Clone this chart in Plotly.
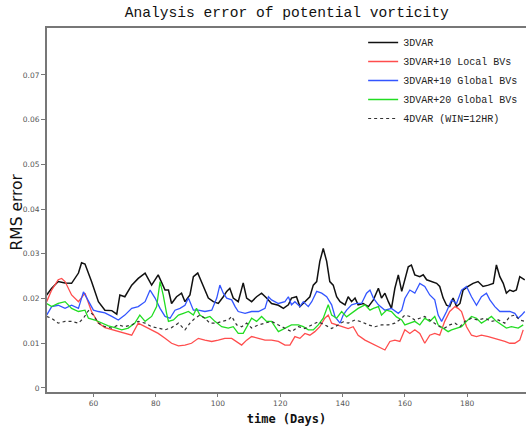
import plotly.graph_objects as go

# ---- data ----
black_days = [45.0, 46.6, 48.7, 50.9, 53.0, 55.2, 56.2, 57.3, 59.4, 61.6, 63.7, 65.9, 67.5, 68.5, 70.1, 72.3,
              74.4, 76.6, 78.7, 80.8, 83.0, 84.1, 85.1, 86.7, 88.3, 89.4, 91.0, 92.1, 93.5, 94.8, 95.8, 96.9,
              98.5, 100.1, 101.7, 102.8, 103.8, 104.9, 106.5, 108.1, 109.2, 110.8, 112.4, 114.0, 115.6, 117.2,
              119.4, 121.0, 122.6, 123.6, 125.2, 126.3, 127.9, 129.5, 130.6, 131.7, 132.7, 133.8, 134.9, 135.9,
              137.0, 138.1, 139.2, 140.8, 141.8, 142.9, 144.0, 145.0, 146.6, 148.3, 149.9, 151.5, 152.5, 153.6,
              154.7, 155.7, 156.8, 157.9, 159.0, 160.0, 161.1, 162.1, 163.2, 164.8, 165.9, 167.0, 168.6, 170.2,
              171.2, 172.3, 173.4, 174.4, 175.5, 176.6, 177.7, 178.7, 180.3, 181.9, 183.5, 185.1, 186.8, 188.4,
              189.4, 190.5, 191.6, 192.6, 193.7, 194.8, 195.8, 196.9, 198.5]
black_vals = [0.0208, 0.0223, 0.0238, 0.0235, 0.0234, 0.0257, 0.0280, 0.0277, 0.0238, 0.0193, 0.0174, 0.0173,
              0.0165, 0.0208, 0.0204, 0.0230, 0.0245, 0.0257, 0.0230, 0.0253, 0.0219, 0.0219, 0.0189, 0.0204,
              0.0212, 0.0193, 0.0208, 0.0249, 0.0257, 0.0234, 0.0219, 0.0201, 0.0193, 0.0189, 0.0204, 0.0216,
              0.0223, 0.0201, 0.0193, 0.0235, 0.0201, 0.0193, 0.0204, 0.0212, 0.0201, 0.0189, 0.0185, 0.0178,
              0.0186, 0.0201, 0.0204, 0.0182, 0.0193, 0.0204, 0.0230, 0.0238, 0.0283, 0.0312, 0.0283, 0.0238,
              0.0230, 0.0204, 0.0193, 0.0186, 0.0204, 0.0193, 0.0201, 0.0186, 0.0189, 0.0182, 0.0197, 0.0223,
              0.0201, 0.0212, 0.0193, 0.0178, 0.0223, 0.0253, 0.0216, 0.0245, 0.0271, 0.0275, 0.0253, 0.0249,
              0.0253, 0.0242, 0.0238, 0.0234, 0.0227, 0.0201, 0.0185, 0.0182, 0.0201, 0.0182, 0.0189, 0.0219,
              0.0227, 0.0234, 0.0238, 0.0227, 0.0230, 0.0234, 0.0275, 0.0249, 0.0234, 0.0212, 0.0219, 0.0216,
              0.0219, 0.0249, 0.0242]

red_days = [45.0, 46.6, 48.7, 49.8, 50.9, 53.0, 55.2, 57.3, 59.4, 61.6, 63.7, 65.9, 68.0, 70.1, 72.3, 74.4,
            76.6, 78.7, 80.8, 83.0, 85.1, 87.3, 89.4, 91.5, 93.7, 95.8, 98.0, 100.1, 102.2, 104.4, 106.0, 107.6,
            109.2, 110.8, 113.0, 115.1, 117.2, 119.4, 121.5, 123.1, 124.7, 126.3, 127.9, 129.5, 131.1, 132.7,
            134.3, 135.4, 136.5, 138.1, 139.7, 141.8, 143.4, 145.0, 147.2, 149.3, 151.5, 153.6, 155.2, 156.8,
            158.4, 160.0, 161.6, 163.2, 164.8, 166.4, 168.0, 169.6, 171.2, 172.8, 174.4, 176.1, 177.1, 178.2,
            179.8, 181.4, 183.0, 184.6, 186.8, 188.9, 190.5, 192.1, 193.7, 195.3, 196.9, 198.0]
red_vals = [0.0193, 0.0219, 0.0242, 0.0245, 0.0238, 0.0208, 0.0193, 0.0212, 0.0171, 0.0145, 0.0135, 0.0131,
            0.0126, 0.0122, 0.0118, 0.0145, 0.0137, 0.0130, 0.0122, 0.0111, 0.0100, 0.0094, 0.0096, 0.0100,
            0.0111, 0.0107, 0.0104, 0.0107, 0.0111, 0.0111, 0.0104, 0.0096, 0.0107, 0.0115, 0.0111, 0.0107,
            0.0107, 0.0104, 0.0096, 0.0096, 0.0115, 0.0111, 0.0122, 0.0118, 0.0126, 0.0137, 0.0156, 0.0163,
            0.0145, 0.0141, 0.0137, 0.0133, 0.0137, 0.0118, 0.0107, 0.0100, 0.0093, 0.0085, 0.0104, 0.0107,
            0.0104, 0.0130, 0.0122, 0.0130, 0.0122, 0.0100, 0.0118, 0.0122, 0.0118, 0.0149, 0.0171, 0.0182,
            0.0178, 0.0171, 0.0137, 0.0118, 0.0115, 0.0118, 0.0115, 0.0111, 0.0107, 0.0104, 0.0100, 0.0100,
            0.0107, 0.0130]

blue_days = [45.0, 46.6, 48.7, 50.9, 53.0, 55.2, 56.8, 58.4, 60.0, 61.6, 63.7, 65.9, 68.0, 70.1, 72.3, 74.4,
             76.6, 78.2, 79.8, 81.4, 83.0, 84.6, 86.2, 87.8, 89.4, 90.5, 92.1, 93.7, 95.8, 98.0, 99.6, 100.6,
             101.7, 102.8, 104.4, 105.5, 106.5, 108.7, 110.8, 113.0, 115.1, 116.2, 117.2, 119.4, 121.5, 122.6,
             123.6, 124.7, 126.3, 127.4, 129.0, 130.1, 131.7, 133.3, 134.9, 136.5, 137.6, 139.2, 140.2, 141.3,
             142.9, 144.5, 146.1, 147.7, 148.8, 149.9, 151.5, 153.6, 155.7, 157.9, 159.0, 160.0, 161.6, 163.2,
             164.8, 166.4, 168.0, 169.6, 170.7, 171.8, 173.4, 175.0, 176.6, 178.2, 179.8, 181.4, 183.0, 184.6,
             186.2, 187.3, 188.9, 190.5, 192.1, 193.7, 195.3, 196.4, 197.5, 198.5]
blue_vals = [0.0163, 0.0182, 0.0185, 0.0178, 0.0185, 0.0178, 0.0215, 0.0193, 0.0174, 0.0171, 0.0168, 0.0160,
             0.0152, 0.0163, 0.0178, 0.0182, 0.0193, 0.0219, 0.0201, 0.0178, 0.0160, 0.0156, 0.0174, 0.0178,
             0.0185, 0.0201, 0.0174, 0.0174, 0.0171, 0.0174, 0.0201, 0.0230, 0.0212, 0.0201, 0.0197, 0.0182,
             0.0171, 0.0167, 0.0171, 0.0171, 0.0178, 0.0204, 0.0197, 0.0189, 0.0193, 0.0204, 0.0186, 0.0193,
             0.0182, 0.0193, 0.0182, 0.0193, 0.0216, 0.0212, 0.0204, 0.0186, 0.0159, 0.0145, 0.0163, 0.0174,
             0.0186, 0.0189, 0.0189, 0.0212, 0.0219, 0.0201, 0.0186, 0.0174, 0.0178, 0.0167, 0.0174, 0.0200,
             0.0219, 0.0212, 0.0234, 0.0227, 0.0208, 0.0197, 0.0163, 0.0149, 0.0171, 0.0197, 0.0189, 0.0219,
             0.0227, 0.0204, 0.0185, 0.0204, 0.0212, 0.0197, 0.0182, 0.0171, 0.0171, 0.0171, 0.0167, 0.0156,
             0.0163, 0.0171]

green_days = [45.0, 46.6, 48.7, 50.9, 53.0, 55.2, 57.3, 58.4, 60.5, 62.6, 64.8, 66.9, 69.1, 71.2, 73.3, 74.9,
              76.6, 78.7, 80.3, 81.4, 82.4, 83.5, 84.1, 85.7, 87.3, 88.9, 90.5, 92.1, 93.1, 94.2, 95.8, 97.4,
              99.0, 101.2, 103.3, 104.9, 106.5, 108.1, 109.7, 110.8, 112.4, 114.0, 115.6, 117.2, 119.4, 121.5,
              123.6, 125.8, 127.4, 129.0, 130.6, 132.2, 133.8, 135.4, 136.5, 138.1, 139.7, 141.3, 142.9, 145.0,
              147.2, 148.8, 149.9, 151.5, 152.5, 154.1, 155.7, 157.3, 159.0, 160.0, 161.6, 163.2, 164.8, 166.4,
              168.0, 169.6, 170.7, 172.3, 173.9, 175.0, 176.6, 178.2, 179.8, 181.4, 183.0, 184.6, 186.2, 187.8,
              189.4, 191.0, 192.6, 194.2, 196.4, 198.0]
green_vals = [0.0189, 0.0182, 0.0189, 0.0193, 0.0178, 0.0171, 0.0174, 0.0156, 0.0152, 0.0145, 0.0139, 0.0135,
              0.0130, 0.0134, 0.0145, 0.0163, 0.0149, 0.0160, 0.0182, 0.0238, 0.0208, 0.0167, 0.0149, 0.0152,
              0.0163, 0.0167, 0.0171, 0.0163, 0.0178, 0.0163, 0.0156, 0.0160, 0.0149, 0.0137, 0.0134, 0.0137,
              0.0122, 0.0122, 0.0141, 0.0156, 0.0149, 0.0160, 0.0149, 0.0149, 0.0126, 0.0134, 0.0141, 0.0141,
              0.0137, 0.0130, 0.0130, 0.0141, 0.0156, 0.0186, 0.0163, 0.0156, 0.0171, 0.0159, 0.0167, 0.0178,
              0.0186, 0.0174, 0.0178, 0.0182, 0.0163, 0.0174, 0.0171, 0.0159, 0.0152, 0.0141, 0.0145, 0.0149,
              0.0141, 0.0156, 0.0149, 0.0160, 0.0141, 0.0134, 0.0126, 0.0130, 0.0134, 0.0137, 0.0149, 0.0160,
              0.0156, 0.0145, 0.0152, 0.0160, 0.0149, 0.0141, 0.0134, 0.0137, 0.0134, 0.0141]

fdvar_days = [45.0, 46.6, 48.7, 50.9, 53.0, 55.2, 56.8, 58.4, 60.0, 61.6, 63.7, 65.9, 68.0, 70.1, 72.3, 74.4,
              76.6, 78.7, 80.8, 83.0, 85.1, 87.3, 89.4, 91.0, 92.6, 94.2, 95.8, 97.4, 99.6, 101.2, 103.3, 104.4,
              106.0, 107.6, 109.2, 110.8, 113.0, 115.1, 117.2, 119.4, 121.5, 123.6, 125.8, 127.9, 130.1, 132.2,
              134.3, 136.5, 138.6, 140.2, 141.8, 144.0, 146.1, 148.3, 150.4, 152.5, 154.7, 156.8, 159.0, 160.0,
              161.6, 163.2, 164.8, 166.4, 168.0, 169.6, 171.2, 172.8, 174.4, 176.1, 177.7, 179.3, 181.4, 183.5,
              185.7, 187.8, 190.0, 192.1, 193.7, 195.3, 196.9, 198.5]
fdvar_vals = [0.0160, 0.0156, 0.0145, 0.0149, 0.0149, 0.0145, 0.0156, 0.0173, 0.0163, 0.0145, 0.0137, 0.0134,
              0.0141, 0.0137, 0.0141, 0.0149, 0.0145, 0.0137, 0.0134, 0.0130, 0.0135, 0.0145, 0.0130, 0.0145,
              0.0156, 0.0163, 0.0156, 0.0145, 0.0145, 0.0149, 0.0152, 0.0160, 0.0141, 0.0137, 0.0145, 0.0134,
              0.0141, 0.0145, 0.0149, 0.0141, 0.0134, 0.0126, 0.0137, 0.0133, 0.0141, 0.0148, 0.0141, 0.0133,
              0.0141, 0.0148, 0.0145, 0.0152, 0.0148, 0.0141, 0.0137, 0.0141, 0.0141, 0.0145, 0.0156, 0.0163,
              0.0160, 0.0152, 0.0156, 0.0160, 0.0152, 0.0145, 0.0137, 0.0134, 0.0141, 0.0145, 0.0137, 0.0149,
              0.0156, 0.0152, 0.0156, 0.0149, 0.0152, 0.0145, 0.0160, 0.0163, 0.0152, 0.0149]

series_names = ["3DVAR", "3DVAR+10 Local BVs", "3DVAR+10 Global BVs", "3DVAR+20 Global BVs", "4DVAR (WIN=12HR)"]
x_ticks = [60, 80, 100, 120, 140, 160, 180]
y_ticks = [0, 0.01, 0.02, 0.03, 0.04, 0.05, 0.06, 0.07]

# ---- figure ----
fig = go.Figure()
styles = [
    (black_days, black_vals, dict(color="#111111", width=1.5, dash="solid")),
    (red_days, red_vals, dict(color="#ff4d4d", width=1.3, dash="solid")),
    (blue_days, blue_vals, dict(color="#3355ff", width=1.3, dash="solid")),
    (green_days, green_vals, dict(color="#22dd22", width=1.3, dash="solid")),
    (fdvar_days, fdvar_vals, dict(color="#333333", width=1.2, dash="dot")),
]
for name, (xd, yd, ln) in zip(series_names, styles):
    fig.add_trace(go.Scatter(x=xd, y=yd, mode="lines", name=name, line=ln))

fig.update_layout(
    width=526, height=430,
    margin=dict(l=47, r=0, t=28, b=38),
    paper_bgcolor="white", plot_bgcolor="white",
    title=dict(text="Analysis error of potential vorticity", x=0.545, xanchor="center",
               y=0.972, yanchor="middle",
               font=dict(family="Liberation Mono", size=14.6, color="#111")),
    legend=dict(x=0.66, y=1.0, xanchor="left", yanchor="top", bgcolor="rgba(0,0,0,0)",
                font=dict(family="Liberation Mono", size=10, color="#222"),
                itemwidth=30, tracegroupgap=0),
    showlegend=True,
    annotations=[dict(text="RMS error", textangle=-90, xref="paper", yref="paper",
                      x=-0.0616, y=0.4945, xanchor="center", yanchor="middle", showarrow=False,
                      font=dict(family="DejaVu Sans", size=15.5, color="#111"))],
)
fig.update_xaxes(range=[45.1, 198.9], tickvals=x_ticks, showgrid=False, zeroline=False,
                 showline=True, linecolor="#777", linewidth=2, mirror=True,
                 ticks="outside", ticklen=3, tickcolor="#777",
                 tickfont=dict(family="DejaVu Sans", size=7.5, color="#555"),
                 title=dict(text="<b>time (Days)</b>", standoff=8,
                            font=dict(family="DejaVu Sans Mono", size=12, color="#111")))
fig.update_yaxes(range=[-0.0009, 0.0805], tickvals=y_ticks, showgrid=False, zeroline=False,
                 showline=True, linecolor="#777", linewidth=2,
                 ticks="outside", ticklen=4, tickcolor="#777",
                 tickfont=dict(family="DejaVu Sans", size=7.5, color="#555"))

fig.write_html("out.html")
